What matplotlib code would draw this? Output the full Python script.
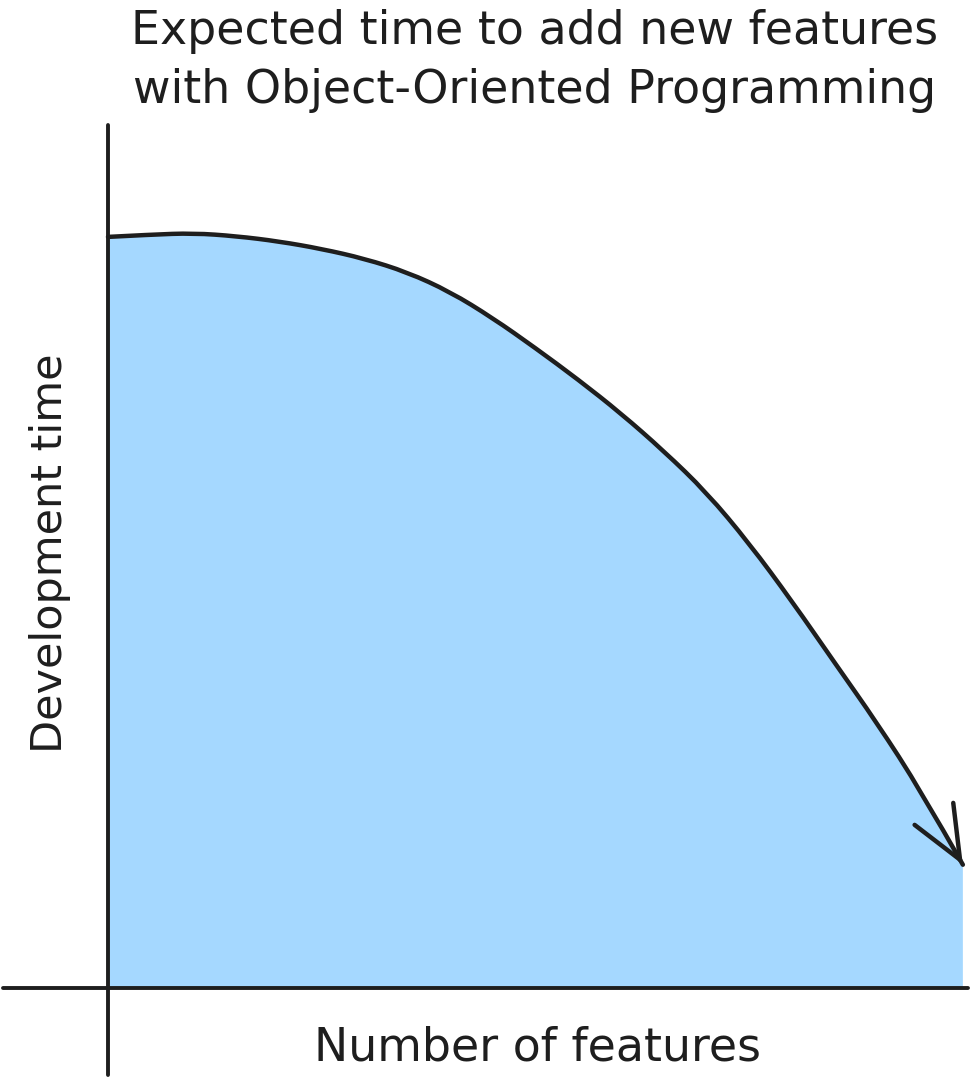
import numpy as np
import matplotlib
matplotlib.use('Agg')
import matplotlib.pyplot as plt
from matplotlib.path import Path
from matplotlib.patches import PathPatch

# hand-read curve: number of features vs development time (arbitrary units)
features = [0, 0.5, 1, 1.5, 2, 2.5, 3, 3.5, 4, 4.5, 5, 5.5, 6, 6.5, 7,
            7.5, 8, 8.5, 9, 9.5, 10]
dev_time = [10.0, 10.03, 10.05, 10.01, 9.94, 9.84, 9.71, 9.53, 9.27, 8.92,
            8.52, 8.10, 7.65, 7.15, 6.60, 5.92, 5.15, 4.33, 3.52, 2.64, 1.64]

title = 'Expected time to add new features\nwith Object-Oriented Programming'
xlabel = 'Number of features'
ylabel = 'Development time'

ink = '#1e1e1e'
fill = '#a5d8ff'


def smooth_path(xs, ys):
    # quadratic bezier through the midpoints, read points act as control points
    verts = [(xs[0], ys[0])]
    codes = [Path.MOVETO]
    for i in range(1, len(xs) - 1):
        mx = (xs[i] + xs[i + 1]) / 2.0
        my = (ys[i] + ys[i + 1]) / 2.0
        if i == len(xs) - 2:
            mx, my = xs[-1], ys[-1]
        verts += [(xs[i], ys[i]), (mx, my)]
        codes += [Path.CURVE3, Path.CURVE3]
    return verts, codes


fig = plt.figure(figsize=(9.75, 10.82), dpi=100)
ax = fig.add_axes([3/975, 1 - 1075/1082, 965/975, 950/1082])

verts, codes = smooth_path(features, dev_time)

# blue area under the curve
area_verts = verts + [(features[-1], 0), (features[0], 0), (features[0], dev_time[0])]
area_codes = codes + [Path.LINETO, Path.LINETO, Path.CLOSEPOLY]
ax.add_patch(PathPatch(Path(area_verts, area_codes), facecolor=fill,
                       edgecolor='none', zorder=1))

# the curve itself
ax.add_patch(PathPatch(Path(verts, codes), facecolor='none', edgecolor=ink,
                       lw=3.2, capstyle='round', joinstyle='round', zorder=3))

# arrow head along the last tangent
tx = features[-1] - 0.1 * (features[-1] - features[-2])
ty = dev_time[-1] - 0.1 * (dev_time[-1] - dev_time[-2])
ax.annotate('', xy=(features[-1], dev_time[-1]), xytext=(tx, ty),
            arrowprops=dict(arrowstyle='->,head_length=3.8,head_width=1.6',
                            mutation_scale=10, color=ink, lw=3.2,
                            shrinkA=0, shrinkB=0, capstyle='round',
                            joinstyle='round'),
            zorder=4)

ax.set_xlim(-1.228, 10.06)
ax.set_ylim(-1.16, 11.49)

for side in ['top', 'right']:
    ax.spines[side].set_visible(False)
for side in ['left', 'bottom']:
    ax.spines[side].set_position(('data', 0))
    ax.spines[side].set_linewidth(2.8)
    ax.spines[side].set_color(ink)
    ax.spines[side].set_capstyle('round')
    ax.spines[side].set_zorder(5)
ax.set_xticks([])
ax.set_yticks([])
ax.patch.set_alpha(0)

fig.text(535/975, 1 - 61/1082, title, ha='center', va='center',
         fontsize=33, color=ink, linespacing=1.42)
fig.text(538/975, 1 - 1048/1082, xlabel, ha='center', va='center',
         fontsize=33, color=ink)
fig.text(50/975, 1 - 553/1082, ylabel, ha='center', va='center',
         fontsize=31, color=ink, rotation=90)

fig.savefig('out.png', dpi=100, facecolor='white')
